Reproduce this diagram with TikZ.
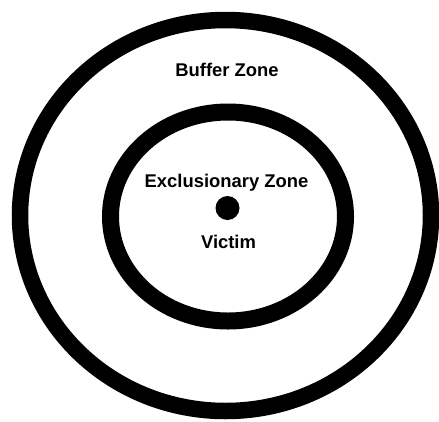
\documentclass[tikz,border=0pt]{standalone}
\usepackage{fontspec}
\setmainfont{Liberation Sans}
\usetikzlibrary{positioning}
\tikzset{
    ring/.style={draw=black, line width=16.5pt},
    zonelabel/.style={anchor=base, inner sep=0pt, font=\bfseries\fontsize{18.4}{20}\selectfont},
    spot/.style={circle, fill=black, minimum size=24pt, inner sep=0pt},
}
\begin{document}
\begin{tikzpicture}[x=1pt, y=-1pt]
    % Area della figura
    \useasboundingbox (0,0) rectangle (439,421);
    \fill[white] (0,0) rectangle (439,421);

    % Anelli delle zone
    \draw[ring] (225.5,215.5) ellipse [x radius=205.5, y radius=195.5];
    \draw[ring, line width=17pt] (228,216.5) ellipse [x radius=117.5, y radius=104.5];

    % Vittima al centro
    \node[spot] (spot) at (227.5,208) {};

    % Etichette
    \node[zonelabel] (buffer) at (227,76) {Buffer Zone};
    \node[zonelabel] (exclusion) at (226.5,187) {Exclusionary Zone};
    \node[zonelabel] (victim) at (228.5,248) {Victim};
\end{tikzpicture}
\end{document}
